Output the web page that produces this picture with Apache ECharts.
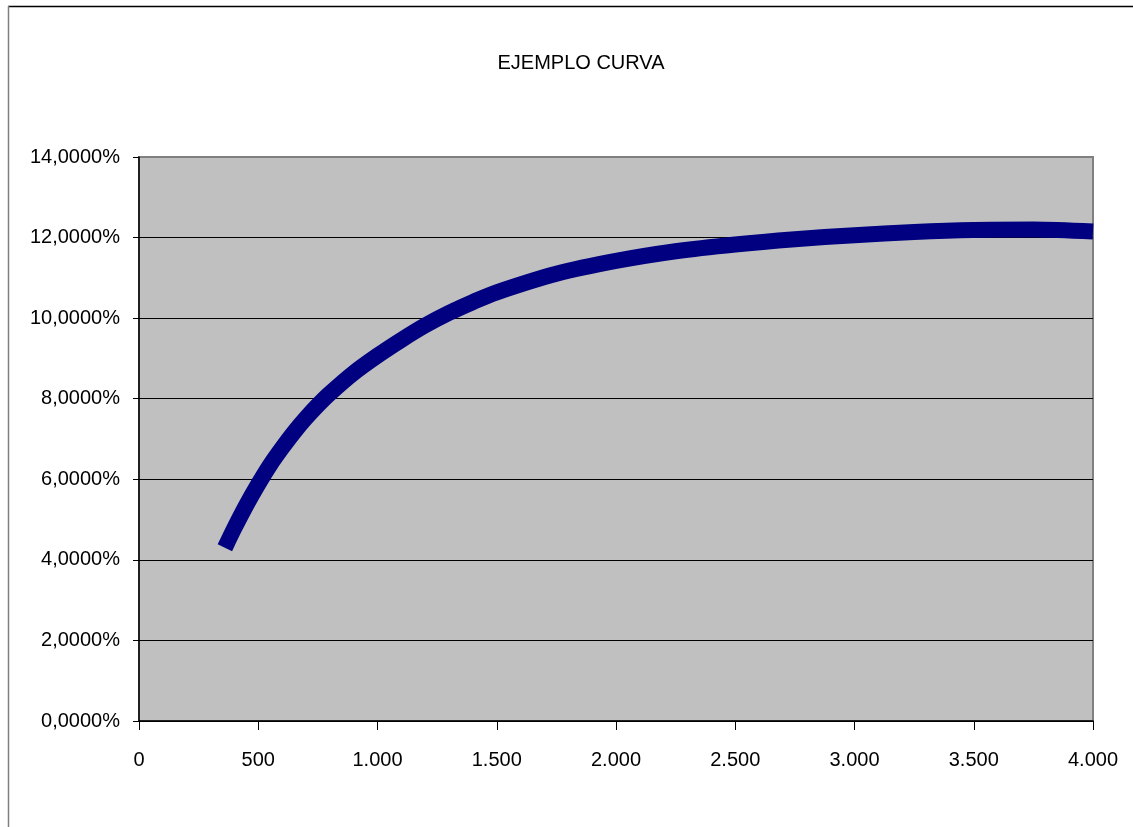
<!DOCTYPE html>
<html>
<head>
<meta charset="utf-8">
<script src="https://cdn.jsdelivr.net/npm/echarts@6/dist/echarts.min.js"></script>
<style>
html,body{margin:0;padding:0;background:#fff;}
#chart{width:1133px;height:827px;}
</style>
</head>
<body>
<div id="chart"></div>
<script>
const titleText = 'EJEMPLO CURVA';
const xValues = [360, 400, 450, 500, 550, 600, 650, 700, 750, 800, 900, 1000, 1100, 1200, 1300, 1400, 1500, 1750, 2000, 2250, 2500, 2750, 3000, 3250, 3500, 3750, 4000];
const yValues = [4.30, 4.79, 5.36, 5.88, 6.36, 6.78, 7.17, 7.52, 7.84, 8.13, 8.64, 9.07, 9.46, 9.82, 10.13, 10.40, 10.64, 11.10, 11.42, 11.66, 11.83, 11.96, 12.06, 12.14, 12.19, 12.20, 12.15];
const xTicks = {min: 0, max: 4000, interval: 500};
const yTicks = {min: 0, max: 14, interval: 2};

const FONT = "'Liberation Sans', Arial, sans-serif";
const seriesData = xValues.map((x, i) => [x, yValues[i]]);

const chart = echarts.init(document.getElementById('chart'), null, {renderer: 'canvas'});
chart.setOption({
  animation: false,
  backgroundColor: '#ffffff',
  title: {
    text: titleText,
    left: 576,
    top: 48,
    textAlign: 'center',
    textStyle: {fontFamily: FONT, fontSize: 20, fontWeight: 'normal', color: '#000'}
  },
  graphic: [
    {type: 'line', shape: {x1: 8, y1: 6.5, x2: 1133, y2: 6.5}, style: {stroke: '#000', lineWidth: 1.5}},
    {type: 'line', shape: {x1: 8.5, y1: 6, x2: 8.5, y2: 827}, style: {stroke: '#808080', lineWidth: 1.5}}
  ],
  grid: {
    left: 139, top: 157, right: 40, bottom: 106,
    show: true, backgroundColor: '#c0c0c0', borderColor: '#808080', borderWidth: 2
  },
  xAxis: {
    type: 'value',
    min: xTicks.min, max: xTicks.max, interval: xTicks.interval,
    axisLine: {show: true, onZero: false, lineStyle: {color: '#000', width: 1.5}},
    axisTick: {show: true, inside: false, length: 9, lineStyle: {color: '#000'}},
    splitLine: {show: false},
    axisLabel: {
      margin: 29, fontFamily: FONT, fontSize: 20, color: '#000',
      formatter: v => String(v).replace(/\B(?=(\d{3})+(?!\d))/g, '.')
    }
  },
  yAxis: {
    type: 'value',
    min: yTicks.min, max: yTicks.max, interval: yTicks.interval,
    axisLine: {show: true, onZero: false, lineStyle: {color: '#000', width: 1.5}},
    axisTick: {show: true, inside: false, length: 6, lineStyle: {color: '#000'}},
    splitLine: {show: true, lineStyle: {color: ['#000','#000','#000','#000','#000','#000','#000','#808080'], width: 1}},
    axisLabel: {
      margin: 19, fontFamily: FONT, fontSize: 20, color: '#000',
      formatter: v => v.toFixed(4).replace('.', ',') + '%'
    }
  },
  series: [{
    type: 'line',
    data: seriesData,
    smooth: 0.3,
    showSymbol: false,
    lineStyle: {color: '#000080', width: 16, cap: 'butt', join: 'round'},
    clip: false
  }]
});
</script>
</body>
</html>
